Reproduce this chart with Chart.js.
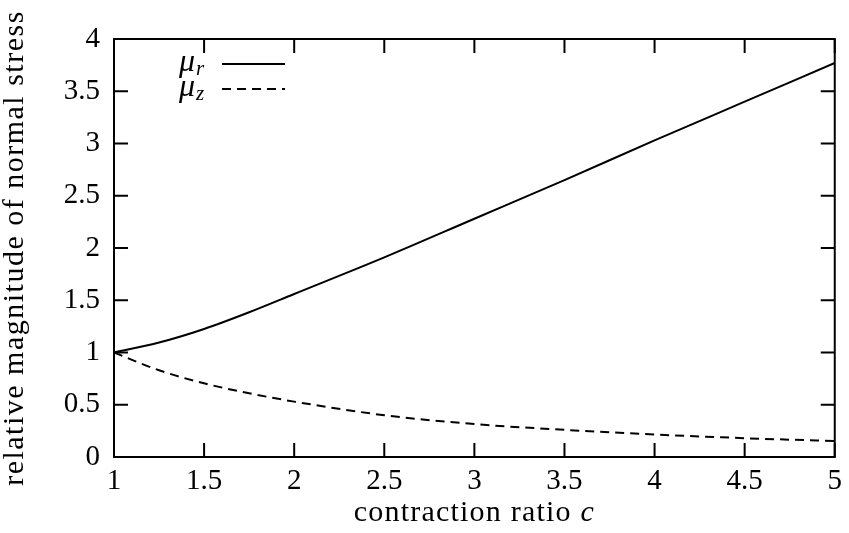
<!DOCTYPE html>
<html>
<head>
<meta charset="utf-8">
<script src="https://cdn.jsdelivr.net/npm/chart.js@4.4.0/dist/chart.umd.min.js"></script>
<style>
  body { margin: 0; background: #fff; }
  #grafico { display: block; }
</style>
</head>
<body>
<canvas id="grafico" width="849" height="533"></canvas>
<script>
// datos
const razon_c = [1, 1.25, 1.5, 1.75, 2, 2.5, 3, 3.5, 4, 4.5, 5];
const mu_r = [1, 1.095, 1.225, 1.385, 1.56, 1.91, 2.28, 2.65, 3.03, 3.40, 3.77];
const mu_z = [1, 0.83, 0.705, 0.61, 0.53, 0.40, 0.315, 0.26, 0.215, 0.18, 0.153];
const ticks_x = [1, 1.5, 2, 2.5, 3, 3.5, 4, 4.5, 5];
const ticks_y = [0, 0.5, 1, 1.5, 2, 2.5, 3, 3.5, 4];

const FUENTE = "'Liberation Serif', 'Times New Roman', serif";

// marco, ticks hacia dentro, leyenda y titulos de ejes
const marcoPlugin = {
  id: "marco",
  afterDraw(chart) {
    const ctx = chart.ctx;
    const a = chart.chartArea;
    const sx = chart.scales.x;
    const sy = chart.scales.y;
    const largo = 14;
    ctx.save();
    ctx.strokeStyle = "#000";
    ctx.lineWidth = 2;
    ctx.setLineDash([]);
    ctx.strokeRect(a.left, a.top, a.right - a.left, a.bottom - a.top);

    ctx.beginPath();
    ticks_x.forEach((v) => {
      const px = sx.getPixelForValue(v);
      ctx.moveTo(px, a.bottom);
      ctx.lineTo(px, a.bottom - largo);
      ctx.moveTo(px, a.top);
      ctx.lineTo(px, a.top + largo);
    });
    ticks_y.forEach((v) => {
      const py = sy.getPixelForValue(v);
      ctx.moveTo(a.left, py);
      ctx.lineTo(a.left + largo, py);
      ctx.moveTo(a.right, py);
      ctx.lineTo(a.right - largo, py);
    });
    ctx.stroke();

    // leyenda
    ctx.fillStyle = "#000";
    ctx.textAlign = "left";
    ctx.textBaseline = "alphabetic";
    ctx.font = "italic 32px " + FUENTE;
    ctx.fillText("\u03bc", 179, 71);
    ctx.fillText("\u03bc", 179, 96);
    ctx.font = "italic 21px " + FUENTE;
    ctx.fillText("r", 196, 75);
    ctx.fillText("z", 196, 100);

    ctx.lineWidth = 2;
    ctx.beginPath();
    ctx.moveTo(222, 64);
    ctx.lineTo(285, 64);
    ctx.stroke();
    ctx.setLineDash([9, 6]);
    ctx.beginPath();
    ctx.moveTo(222, 89);
    ctx.lineTo(285, 89);
    ctx.stroke();
    ctx.setLineDash([]);

    // titulo eje x
    ctx.letterSpacing = "1.2px";
    const t1 = "contraction ratio ";
    ctx.font = "30px " + FUENTE;
    const w1 = ctx.measureText(t1).width;
    ctx.font = "italic 30px " + FUENTE;
    const w2 = ctx.measureText("c").width;
    const cx = (a.left + a.right) / 2;
    let x0 = cx - (w1 + w2) / 2;
    ctx.font = "30px " + FUENTE;
    ctx.fillText(t1, x0, 521);
    ctx.font = "italic 30px " + FUENTE;
    ctx.fillText("c", x0 + w1, 521);

    // titulo eje y
    ctx.save();
    ctx.letterSpacing = "1.5px";
    ctx.translate(23, (a.top + a.bottom) / 2);
    ctx.rotate(-Math.PI / 2);
    ctx.textAlign = "center";
    ctx.font = "30px " + FUENTE;
    ctx.fillText("relative magnitude of normal stress", 0, 0);
    ctx.restore();

    ctx.restore();
  },
};

let ctx = document.getElementById("grafico").getContext("2d");
let grafico = new Chart(ctx, {
  type: "line",
  data: {
    datasets: [
      {
        label: "\u03bc_r",
        data: razon_c.map((c, i) => ({ x: c, y: mu_r[i] })),
        borderColor: "#000",
        borderWidth: 2,
        pointRadius: 0,
        fill: false,
        cubicInterpolationMode: "monotone",
      },
      {
        label: "\u03bc_z",
        data: razon_c.map((c, i) => ({ x: c, y: mu_z[i] })),
        borderColor: "#000",
        borderWidth: 2,
        borderDash: [9, 6],
        pointRadius: 0,
        fill: false,
        cubicInterpolationMode: "monotone",
      },
    ],
  },
  options: {
    responsive: false,
    animation: false,
    layout: { padding: { left: 0, right: 10, top: 39, bottom: 0 } },
    plugins: { legend: { display: false }, tooltip: { enabled: false } },
    scales: {
      x: {
        type: "linear",
        min: 1,
        max: 5,
        afterBuildTicks: (s) => { s.ticks = ticks_x.map((v) => ({ value: v })); },
        afterFit: (s) => { s.height = 76; },
        grid: { display: false, drawTicks: false },
        border: { display: false },
        ticks: {
          color: "#000",
          font: { family: FUENTE, size: 29 },
          padding: 7,
          maxRotation: 0,
          autoSkip: false,
          callback: (v) => String(v),
        },
      },
      y: {
        type: "linear",
        min: 0,
        max: 4,
        afterBuildTicks: (s) => { s.ticks = ticks_y.map((v) => ({ value: v })); },
        afterFit: (s) => { s.width = 114; },
        grid: { display: false, drawTicks: false },
        border: { display: false },
        ticks: {
          color: "#000",
          font: { family: FUENTE, size: 29 },
          padding: 14,
          callback: (v) => String(v),
        },
      },
    },
  },
  plugins: [marcoPlugin],
});
</script>
</body>
</html>
